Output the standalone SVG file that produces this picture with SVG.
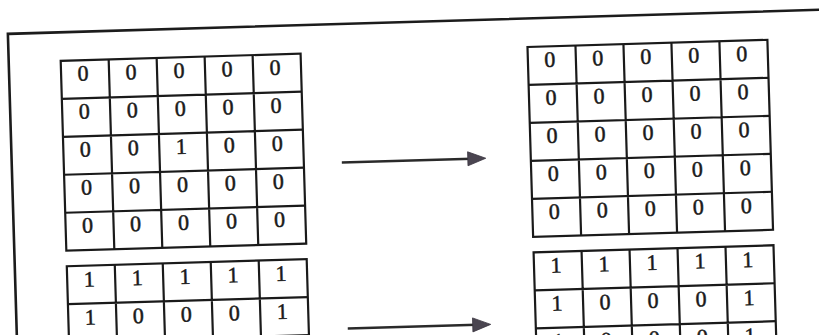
<svg xmlns="http://www.w3.org/2000/svg" width="819" height="335" viewBox="0 0 819 335">
  <style>
    .frame { fill: none; stroke: #1c1c1c; stroke-width: 2.6; }
    .grid { fill: none; stroke: #1a1a1a; stroke-width: 2.2; }
    .t { font-family: "Liberation Serif", "Times New Roman", serif; font-size: 22px; fill: #1a1a1a; stroke: #1a1a1a; stroke-width: 0.5; text-anchor: middle; }
    .arrow-line { stroke: #2a2a2a; stroke-width: 2.5; fill: none; }
    .arrow-head { fill: #4a4550; stroke: #3a3540; stroke-width: 0.8; }
  </style>
  <defs>
    <g id="gridlines">
      <rect class="grid" x="0" y="0" width="240" height="190"/>
      <path class="grid" d="M48 0V190M96 0V190M144 0V190M192 0V190M0 38H240M0 76H240M0 114H240M0 152H240"/>
    </g>
  </defs>
  <rect width="819" height="335" fill="#ffffff"/>
  <g transform="rotate(-1.7 410 167)">
    <g id="frame">
      <rect class="frame" x="12" y="22" width="900" height="420"/>
    </g>

    <g id="grid-seed" transform="translate(64 50.5)">
      <use href="#gridlines"/>
      <text class="t" x="22" y="20.5">0</text><text class="t" x="70" y="20.5">0</text><text class="t" x="118" y="20.5">0</text><text class="t" x="166" y="20.5">0</text><text class="t" x="214" y="20.5">0</text>
      <text class="t" x="22" y="58.5">0</text><text class="t" x="70" y="58.5">0</text><text class="t" x="118" y="58.5">0</text><text class="t" x="166" y="58.5">0</text><text class="t" x="214" y="58.5">0</text>
      <text class="t" x="22" y="96.5">0</text><text class="t" x="70" y="96.5">0</text><text class="t" x="118" y="96.5">1</text><text class="t" x="166" y="96.5">0</text><text class="t" x="214" y="96.5">0</text>
      <text class="t" x="22" y="134.5">0</text><text class="t" x="70" y="134.5">0</text><text class="t" x="118" y="134.5">0</text><text class="t" x="166" y="134.5">0</text><text class="t" x="214" y="134.5">0</text>
      <text class="t" x="22" y="172.5">0</text><text class="t" x="70" y="172.5">0</text><text class="t" x="118" y="172.5">0</text><text class="t" x="166" y="172.5">0</text><text class="t" x="214" y="172.5">0</text>
    </g>

    <g id="grid-result-top" transform="translate(531 50.5)">
      <use href="#gridlines"/>
      <text class="t" x="22" y="20.5">0</text><text class="t" x="70" y="20.5">0</text><text class="t" x="118" y="20.5">0</text><text class="t" x="166" y="20.5">0</text><text class="t" x="214" y="20.5">0</text>
      <text class="t" x="22" y="58.5">0</text><text class="t" x="70" y="58.5">0</text><text class="t" x="118" y="58.5">0</text><text class="t" x="166" y="58.5">0</text><text class="t" x="214" y="58.5">0</text>
      <text class="t" x="22" y="96.5">0</text><text class="t" x="70" y="96.5">0</text><text class="t" x="118" y="96.5">0</text><text class="t" x="166" y="96.5">0</text><text class="t" x="214" y="96.5">0</text>
      <text class="t" x="22" y="134.5">0</text><text class="t" x="70" y="134.5">0</text><text class="t" x="118" y="134.5">0</text><text class="t" x="166" y="134.5">0</text><text class="t" x="214" y="134.5">0</text>
      <text class="t" x="22" y="172.5">0</text><text class="t" x="70" y="172.5">0</text><text class="t" x="118" y="172.5">0</text><text class="t" x="166" y="172.5">0</text><text class="t" x="214" y="172.5">0</text>
    </g>

    <g id="grid-boundary" transform="translate(64 256)">
      <use href="#gridlines"/>
      <text class="t" x="22" y="21">1</text><text class="t" x="70" y="21">1</text><text class="t" x="118" y="21">1</text><text class="t" x="166" y="21">1</text><text class="t" x="214" y="21">1</text>
      <text class="t" x="22" y="59">1</text><text class="t" x="70" y="59">0</text><text class="t" x="118" y="59">0</text><text class="t" x="166" y="59">0</text><text class="t" x="214" y="59">1</text>
    </g>

    <g id="grid-result-bottom" transform="translate(531 256)">
      <use href="#gridlines"/>
      <text class="t" x="22" y="21">1</text><text class="t" x="70" y="21">1</text><text class="t" x="118" y="21">1</text><text class="t" x="166" y="21">1</text><text class="t" x="214" y="21">1</text>
      <text class="t" x="22" y="59">1</text><text class="t" x="70" y="59">0</text><text class="t" x="118" y="59">0</text><text class="t" x="166" y="59">0</text><text class="t" x="214" y="59">1</text>
      <text class="t" x="22" y="97">1</text><text class="t" x="70" y="97">0</text><text class="t" x="118" y="97">0</text><text class="t" x="166" y="97">0</text><text class="t" x="214" y="97">1</text>
    </g>

    <g id="connectors">
      <g id="arrow-top">
        <line class="arrow-line" x1="342" y1="160.5" x2="472" y2="160.5"/>
        <polygon class="arrow-head" points="486,160.5 468,153.5 468,167.5"/>
      </g>
      <g id="arrow-bottom">
        <line class="arrow-line" x1="343" y1="326.7" x2="472" y2="326.7"/>
        <polygon class="arrow-head" points="486,326.7 468,319.7 468,333.7"/>
      </g>
    </g>
  </g>
</svg>
